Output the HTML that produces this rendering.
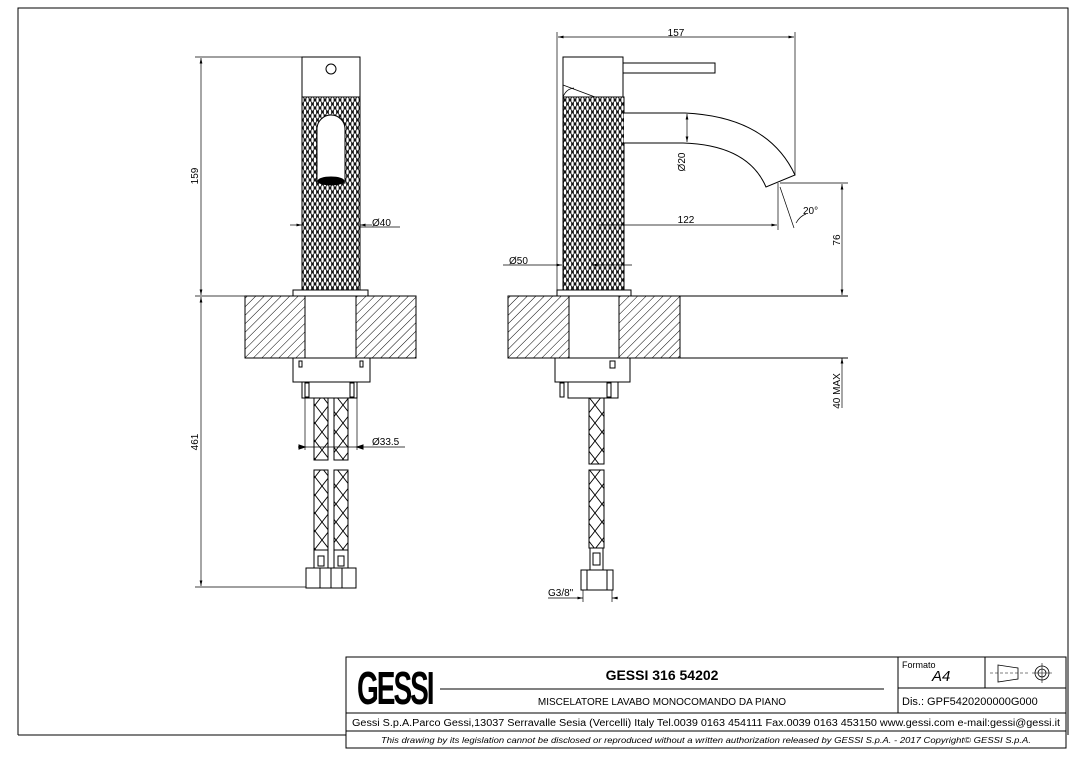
<!DOCTYPE html>
<html><head><meta charset="utf-8"><style>
body{margin:0;background:#fff}
svg{display:block}
text{font-family:"Liberation Sans",sans-serif;fill:#000}
</style></head><body>
<svg width="1086" height="760" viewBox="0 0 1086 760" xmlns="http://www.w3.org/2000/svg">
<defs>
<pattern id="knurl" width="5" height="8" patternUnits="userSpaceOnUse">
<rect width="5" height="8" fill="#111"/>
<ellipse cx="2.5" cy="4" rx="1.2" ry="2.6" fill="#fff"/>
<ellipse cx="0" cy="0" rx="1.2" ry="2.6" fill="#fff"/>
<ellipse cx="5" cy="0" rx="1.2" ry="2.6" fill="#fff"/>
<ellipse cx="0" cy="8" rx="1.2" ry="2.6" fill="#fff"/>
<ellipse cx="5" cy="8" rx="1.2" ry="2.6" fill="#fff"/>
</pattern>
<pattern id="hatch" width="6" height="6" patternUnits="userSpaceOnUse" patternTransform="rotate(45)">
<rect width="6" height="6" fill="#fff"/><line x1="0" y1="0" x2="0" y2="6" stroke="#000" stroke-width="1"/>
</pattern>
<pattern id="braid" width="14" height="18" patternUnits="userSpaceOnUse">
<path d="M0 0 L14 18 M14 0 L0 18" stroke="#000" stroke-width="0.9" fill="none"/>
</pattern>
<marker id="ar" markerWidth="8" markerHeight="6" refX="8" refY="3" orient="auto"><path d="M0 1 L8 3 L0 5Z" fill="#000"/></marker>
<marker id="al" markerWidth="8" markerHeight="6" refX="0" refY="3" orient="auto"><path d="M8 1 L0 3 L8 5Z" fill="#000"/></marker>
</defs>
<g fill="none" stroke="#000" stroke-width="1">
<path d="M18 735 L18 8 L1068 8 L1068 735"/>
<line x1="18" y1="735" x2="346" y2="735"/>

<line x1="195" y1="57" x2="302" y2="57" stroke-width="0.7"/>
<line x1="195" y1="296" x2="245" y2="296" stroke-width="0.7"/>
<line x1="195" y1="587" x2="306" y2="587" stroke-width="0.7"/>
<line x1="201" y1="58" x2="201" y2="295" marker-start="url(#al)" marker-end="url(#ar)" stroke-width="0.7"/>
<line x1="201" y1="297" x2="201" y2="586" marker-start="url(#al)" marker-end="url(#ar)" stroke-width="0.7"/>
<rect x="302" y="57" width="58" height="40" fill="#fff"/>
<circle cx="331" cy="69" r="5"/>
<rect x="302" y="97" width="58" height="193" fill="url(#knurl)"/>
<path d="M317 183 L317 129 A14 14 0 0 1 345 129 L345 183 Z" fill="#fff"/>
<ellipse cx="331" cy="181" rx="13" ry="4" fill="#000"/>
<rect x="293" y="290" width="75" height="6" fill="#fff"/>
<rect x="245" y="296" width="171" height="62" fill="url(#hatch)"/>
<rect x="305" y="296" width="51" height="62" fill="#fff"/>
<rect x="293" y="358" width="77" height="24" fill="#fff"/>
<rect x="299" y="361" width="3" height="6"/><rect x="360" y="361" width="3" height="6"/>
<rect x="302" y="382" width="55" height="16" fill="#fff"/>
<rect x="305" y="383" width="4" height="14" fill="#fff"/><rect x="350" y="383" width="4" height="14" fill="#fff"/>
<rect x="314" y="398" width="14" height="62" fill="url(#braid)"/>
<rect x="334" y="398" width="14" height="62" fill="url(#braid)"/>
<rect x="314" y="470" width="14" height="80" fill="url(#braid)"/>
<rect x="334" y="470" width="14" height="80" fill="url(#braid)"/>
<rect x="314" y="550" width="14" height="18"/><rect x="334" y="550" width="14" height="18"/>
<rect x="318" y="556" width="6" height="10"/><rect x="338" y="556" width="6" height="10"/>
<rect x="306" y="568" width="50" height="20" fill="#fff"/>
<line x1="320" y1="568" x2="320" y2="588"/><line x1="342" y1="568" x2="342" y2="588"/><line x1="331" y1="568" x2="331" y2="588"/>
<line x1="290" y1="225" x2="302" y2="225" marker-end="url(#ar)" stroke-width="0.7"/>
<line x1="372" y1="225" x2="360" y2="225" marker-end="url(#ar)" stroke-width="0.7"/>
<line x1="360" y1="227" x2="400" y2="227" stroke-width="0.7"/>
<line x1="305" y1="398" x2="305" y2="450" stroke-width="0.7"/>
<line x1="357" y1="398" x2="357" y2="450" stroke-width="0.7"/>
<line x1="298" y1="447" x2="405" y2="447" stroke-width="0.7"/>
<path d="M299 445 L305 447 L299 449Z M363 445 L357 447 L363 449Z" fill="#000"/>

<line x1="557" y1="32" x2="557" y2="290" stroke-width="0.7"/>
<line x1="795" y1="32" x2="795" y2="175" stroke-width="0.7"/>
<line x1="558" y1="37" x2="794" y2="37" marker-start="url(#al)" marker-end="url(#ar)" stroke-width="0.7"/>
<rect x="563" y="57" width="60" height="40" fill="#fff"/>
<path d="M563 85 L595 97 M563 97 Q566 89 574 88" stroke-width="0.8"/>
<rect x="623" y="63" width="92" height="10" fill="#fff"/>
<rect x="563" y="97" width="61" height="193" fill="url(#knurl)"/>
<path d="M624 113 L685 113 Q768 117 795 175 L766 187 Q748 145 683 143 L624 143" fill="#fff"/>
<line x1="687" y1="114" x2="687" y2="142" marker-start="url(#al)" marker-end="url(#ar)" stroke-width="0.7"/>
<line x1="778" y1="183" x2="778" y2="230" stroke-width="0.7"/>
<line x1="780" y1="183" x2="848" y2="183" stroke-width="0.7"/>
<line x1="596" y1="225" x2="777" y2="225" marker-end="url(#ar)" stroke-width="0.7"/>
<line x1="780" y1="187" x2="794" y2="228" stroke-width="0.7"/>
<path d="M796 223 Q800 216 806 214" stroke-width="0.7"/>
<line x1="842" y1="184" x2="842" y2="295" marker-start="url(#al)" marker-end="url(#ar)" stroke-width="0.7"/>
<rect x="557" y="290" width="74" height="6" fill="#fff"/>
<line x1="503" y1="265" x2="562" y2="265" marker-end="url(#ar)" stroke-width="0.7"/>
<line x1="592" y1="265" x2="632" y2="265" marker-start="url(#al)" stroke-width="0.7"/>
<rect x="508" y="296" width="172" height="62" fill="url(#hatch)"/>
<rect x="569" y="296" width="50" height="62" fill="#fff"/>
<line x1="680" y1="296" x2="848" y2="296"/>
<line x1="680" y1="358" x2="848" y2="358"/>
<line x1="842" y1="358" x2="842" y2="408" marker-start="url(#al)" stroke-width="0.7"/>
<rect x="555" y="358" width="75" height="24" fill="#fff"/>
<rect x="610" y="361" width="5" height="7"/>
<rect x="568" y="382" width="50" height="16" fill="#fff"/>
<rect x="560" y="383" width="4" height="14" fill="#fff"/><rect x="607" y="383" width="4" height="14" fill="#fff"/>
<rect x="589" y="398" width="15" height="66" fill="url(#braid)"/>
<rect x="589" y="470" width="15" height="78" fill="url(#braid)"/>
<rect x="590" y="548" width="13" height="22"/><rect x="593" y="553" width="7" height="12"/>
<rect x="581" y="570" width="32" height="20" fill="#fff"/>
<line x1="587" y1="570" x2="587" y2="590"/><line x1="607" y1="570" x2="607" y2="590"/>
<line x1="548" y1="598" x2="583" y2="598" marker-end="url(#ar)" stroke-width="0.7"/>
<line x1="612" y1="598" x2="618" y2="598" marker-start="url(#al)" stroke-width="0.7"/>
<line x1="583" y1="590" x2="583" y2="602" stroke-width="0.7"/>
<line x1="612" y1="590" x2="612" y2="602" stroke-width="0.7"/>

<rect x="346" y="657" width="720" height="91"/>
<line x1="346" y1="713" x2="1066" y2="713"/>
<line x1="346" y1="731" x2="1066" y2="731"/>
<line x1="898" y1="657" x2="898" y2="713"/>
<line x1="898" y1="688" x2="1066" y2="688"/>
<line x1="985" y1="657" x2="985" y2="688"/>
<line x1="440" y1="689" x2="884" y2="689"/>
<path d="M998 665 L1018 668 L1018 679 L998 682Z" stroke-width="0.8"/>
<path d="M990 673 L1030 673" stroke-width="0.6" stroke-dasharray="3 2"/>
<circle cx="1042" cy="673" r="7" stroke-width="0.8"/><circle cx="1042" cy="673" r="4" stroke-width="0.8"/>
<line x1="1032" y1="673" x2="1052" y2="673" stroke-width="0.6"/><line x1="1042" y1="663" x2="1042" y2="683" stroke-width="0.6"/>
</g>

<g font-size="10">
<text transform="translate(198,176) rotate(-90)" text-anchor="middle">159</text>
<text transform="translate(198,442) rotate(-90)" text-anchor="middle">461</text>
<text x="372" y="226">Ø40</text>
<text x="372" y="445">Ø33.5</text>
<text x="676" y="36" text-anchor="middle">157</text>
<text transform="translate(685,162) rotate(-90)" text-anchor="middle">Ø20</text>
<text x="686" y="223" text-anchor="middle">122</text>
<text x="803" y="214">20°</text>
<text transform="translate(840,240) rotate(-90)" text-anchor="middle">76</text>
<text transform="translate(840,391) rotate(-90)" text-anchor="middle">40 MAX</text>
<text x="509" y="264">Ø50</text>
<text x="548" y="596">G3/8"</text>
</g>
<text x="0" y="0" font-size="56" font-weight="bold" transform="translate(357,704) scale(0.5,0.82)" style="letter-spacing:-4px">GESSI</text>
<text x="662" y="680" font-size="14" font-weight="bold" text-anchor="middle">GESSI 316 54202</text>
<text x="662" y="705" font-size="10" text-anchor="middle">MISCELATORE LAVABO MONOCOMANDO DA PIANO</text>
<text x="902" y="668" font-size="9">Formato</text>
<text x="932" y="681" font-size="15" font-style="italic">A4</text>
<text x="902" y="705" font-size="11">Dis.: GPF5420200000G000</text>
<text x="706" y="726" font-size="10" text-anchor="middle" textLength="708" lengthAdjust="spacingAndGlyphs">Gessi S.p.A.Parco Gessi,13037 Serravalle Sesia (Vercelli) Italy Tel.0039 0163 454111 Fax.0039 0163 453150 www.gessi.com e-mail:gessi@gessi.it</text>
<text x="706" y="743" font-size="8.5" font-style="italic" text-anchor="middle" textLength="650" lengthAdjust="spacingAndGlyphs">This drawing by its legislation cannot be disclosed or reproduced without a written authorization released by GESSI S.p.A. - 2017 Copyright© GESSI S.p.A.</text>
</svg>
</body></html>
